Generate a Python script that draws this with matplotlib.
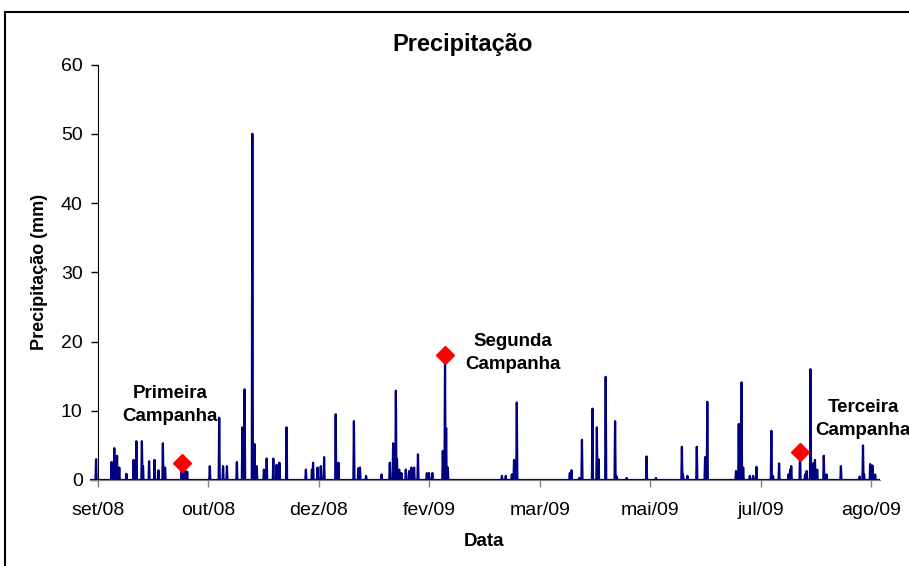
import numpy as np
import matplotlib
matplotlib.use("Agg")
import matplotlib.pyplot as plt
from matplotlib.patches import Rectangle

plt.rcParams['font.family'] = ['Liberation Sans', 'DejaVu Sans']

# dias contados a partir do primeiro tick (set/08), intervalo de 50 dias entre ticks
dias_chuva = [-0.9, 6.2, 7.4, 8.7, 9.6, 13.0, 16.2, 17.3, 19.8, 20.5, 23.1, 25.7, 27.3, 29.3, 30.3,
              37.9, 38.5, 39.4, 40.3, 50.7, 54.8, 56.7, 58.3, 62.8, 65.5, 66.4, 69.9, 70.9, 72.0,
              75.2, 76.4, 79.4, 80.9, 82.1, 85.4, 94.2, 96.8, 97.5, 99.5, 100.8, 102.3, 107.6,
              108.8, 115.9, 117.9, 118.6, 121.3, 128.4, 132.2, 133.7, 134.8, 135.4, 136.3, 137.5,
              139.3, 140.9, 142.0, 143.2, 144.9, 148.8, 149.9, 151.5, 156.1, 157.1, 157.6, 158.3,
              182.8, 184.6, 187.3, 188.5, 189.6, 213.7, 214.5, 217.8, 219.1, 224.0, 225.8, 226.7,
              230.0, 234.1, 234.8, 239.3, 248.4, 252.6, 264.3, 265.0, 266.8, 271.1, 274.8, 276.0,
              288.9, 290.2, 291.4, 292.1, 295.2, 296.7, 298.2, 305.0, 305.7, 308.3, 312.6, 313.3,
              314.0, 317.8, 320.1, 320.9, 322.6, 323.8, 324.6, 325.6, 328.7, 329.9, 336.3, 345.0,
              346.3, 347.0, 349.6, 350.6, 351.8]
chuva_mm = [3.0, 2.6, 4.6, 3.5, 1.8, 0.9, 2.9, 5.6, 5.6, 2.0, 2.7, 2.9, 1.4, 5.3, 1.8,
            2.5, 1.5, 1.8, 1.2, 2.0, 9.0, 2.0, 2.0, 2.6, 7.6, 13.1, 50.0, 5.2, 2.0,
            1.5, 3.1, 3.1, 2.2, 2.5, 7.6, 1.5, 1.5, 2.5, 1.8, 2.0, 3.3, 9.5,
            2.5, 8.5, 1.7, 1.8, 0.6, 0.8, 2.5, 5.3, 12.9, 3.0, 1.5, 1.0,
            1.5, 1.3, 1.8, 1.8, 3.7, 1.0, 1.0, 1.0, 4.2, 18.0, 7.5, 1.8,
            0.6, 0.6, 0.8, 2.9, 11.2, 1.0, 1.4, 0.3, 5.8, 10.3, 7.6, 3.0,
            14.9, 8.5, 0.5, 0.3, 3.4, 0.3, 4.8, 0.8, 0.6, 4.8, 3.3, 11.3,
            1.3, 8.1, 14.1, 1.8, 0.6, 0.6, 1.9, 7.1, 0.6, 2.4, 0.8, 1.5,
            2.0, 4.1, 0.8, 1.3, 16.0, 2.4, 2.9, 1.5, 3.5, 0.8, 2.0, 0.5,
            5.0, 0.8, 2.3, 2.1, 0.8]

inicio, fim = -3.6, 354.1

campanhas = ['Primeira\nCampanha', 'Segunda\nCampanha', 'Terceira\nCampanha']
campanha_dia = [37.9, 157.1, 317.8]
campanha_mm = [2.5, 18.0, 4.1]
rotulo_dia = [32.6, 187.9, 346.5]
rotulo_mm = [10.8, 18.3, 8.8]

ticks_dia = [0, 50, 100, 150, 200, 250, 300, 350]
ticks_rotulo = ['set/08', 'out/08', 'dez/08', 'fev/09', 'mar/09', 'mai/09', 'jul/09', 'ago/09']

# serie em passos de 6 h, zero fora dos eventos
t = np.arange(inicio, fim + 0.001, 0.25)
p = np.zeros_like(t)
for d, v in zip(dias_chuva, chuva_mm):
    i = int(round((d - inicio) / 0.25))
    p[i] = max(p[i], v)

fig = plt.figure(figsize=(9.09, 5.66), dpi=100)
ax = fig.add_axes([90 / 909, 1 - 480 / 566, 790 / 909, 415.5 / 566])

ax.plot(t, p, color='#000080', lw=1.6, zorder=3)
ax.plot(campanha_dia, campanha_mm, 'D', color='#ff0000', markersize=9, zorder=4, clip_on=False)

for txt, x, y in zip(campanhas, rotulo_dia, rotulo_mm):
    ax.text(x, y, txt, ha='center', va='center', fontsize=13.5, fontweight='bold',
            linespacing=1.45, clip_on=False)

ax.set_xlim(inicio, fim)
ax.set_ylim(0, 60)
ax.set_yticks(range(0, 61, 10))
ax.set_xticks(ticks_dia)
ax.set_xticklabels(ticks_rotulo)

ax.spines['top'].set_visible(False)
ax.spines['right'].set_visible(False)
ax.spines['left'].set_position(('data', 0))
ax.spines['bottom'].set_color('#808080')
ax.tick_params(axis='y', direction='out', length=5, width=1, pad=6, labelsize=14)
ax.tick_params(axis='x', direction='out', length=5, width=1, color='#808080', pad=11, labelsize=14)

fig.text(463 / 909, 1 - 45 / 566, 'Precipitação', ha='center', va='center',
         fontsize=17, fontweight='bold')
fig.text(40 / 909, 1 - 272 / 566, 'Precipitação (mm)', ha='center', va='center',
         rotation=90, fontsize=13, fontweight='bold')
fig.text(484 / 909, 1 - 541 / 566, 'Data', ha='center', va='center',
         fontsize=13.5, fontweight='bold')

# moldura da area do grafico (cortada a direita e embaixo)
fig.patches.append(Rectangle((5 / 909, -0.1), 1.2, 1 - 12 / 566 + 0.1, transform=fig.transFigure,
                             fill=False, edgecolor='black', lw=1.5))

fig.savefig('out.png', dpi=100)
